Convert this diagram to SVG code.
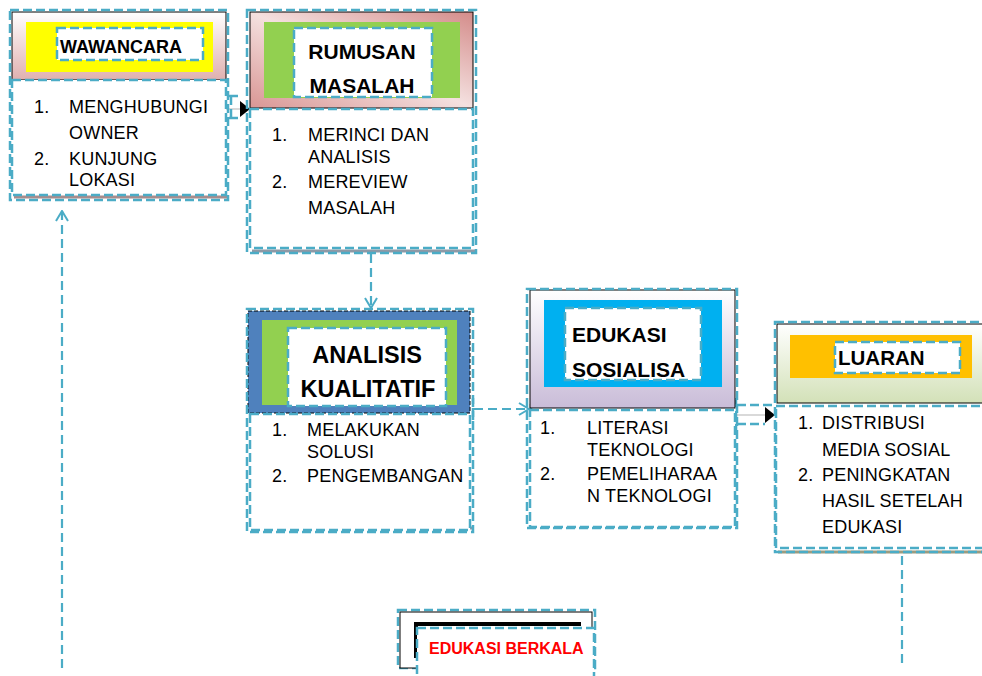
<svg xmlns="http://www.w3.org/2000/svg" width="982" height="676" viewBox="0 0 982 676">
<defs>
  <linearGradient id="gPink" x1="0" y1="0" x2="0" y2="1">
    <stop offset="0" stop-color="#ffffff"/><stop offset="1" stop-color="#e0b0af"/>
  </linearGradient>
  <linearGradient id="gRose" x1="0" y1="1" x2="1" y2="0">
    <stop offset="0" stop-color="#d99694"/><stop offset="0.5" stop-color="#f4e0df"/><stop offset="1" stop-color="#d48c8a"/>
  </linearGradient>
  <linearGradient id="gLav" x1="0" y1="0" x2="0" y2="1">
    <stop offset="0" stop-color="#ffffff"/><stop offset="1" stop-color="#c9bcd8"/>
  </linearGradient>
  <linearGradient id="gGreen" x1="0" y1="0" x2="0" y2="1">
    <stop offset="0" stop-color="#ffffff"/><stop offset="1" stop-color="#d3e1b8"/>
  </linearGradient>
  <marker id="tri" viewBox="0 0 10 16" refX="0" refY="8" markerWidth="10" markerHeight="16" markerUnits="userSpaceOnUse" orient="auto">
    <path d="M0,0 L10,8 L0,16 z" fill="#000"/>
  </marker>
  <marker id="vee" viewBox="0 0 12 14" refX="11" refY="7" markerWidth="12" markerHeight="14" markerUnits="userSpaceOnUse" orient="auto">
    <path d="M1,1 L11,7 L1,13" fill="none" stroke="#4bacc6" stroke-width="2"/>
  </marker>
</defs>
<style>
  .dash{fill:none;stroke:#4bacc6;stroke-width:2.5;stroke-dasharray:9 4}
  .dashw{fill:#fff;stroke:#4bacc6;stroke-width:2.5;stroke-dasharray:9 4}
  .conn{fill:none;stroke:#4bacc6;stroke-width:2.2;stroke-dasharray:9 5}
  .gray{fill:none;stroke:#d9d9d9;stroke-width:2}
  .edge{stroke:#000;stroke-width:1}
  .t{font-family:"Liberation Sans",Arial,sans-serif;font-size:18px;letter-spacing:0.2px;fill:#000}
  .h{font-family:"Liberation Sans",Arial,sans-serif;font-weight:bold;fill:#000}
</style>
<rect width="982" height="676" fill="#fff"/>

<g id="connectors">
  <line class="gray" x1="226" y1="109" x2="240" y2="109" marker-end="url(#tri)"/>
  <path class="dash" d="M229,96 H241 M231,96 V118 M229,118 H242"/>
  <path class="conn" d="M371,254 V308" marker-end="url(#vee)"/>
  <path class="conn" d="M474,409 H529" marker-end="url(#vee)"/>
  <path class="dash" d="M473,398 V422 M531,404 V420"/>
  <line class="gray" x1="737" y1="415" x2="765" y2="415" marker-end="url(#tri)"/>
  <path class="dash" d="M737,405 H776 M737,424 H765 M736,398 V432"/>
  <path class="conn" d="M902,556 V668"/>
  <path class="conn" d="M62,668 V211" marker-end="url(#vee)"/>
</g>

<g id="wawancara">
  <rect class="edge" x="12" y="12" width="214" height="68" fill="url(#gPink)"/>
  <rect x="26" y="22" width="187" height="50" fill="#ffff00"/>
  <rect class="dashw" x="57" y="28" width="146" height="32"/>
  <text class="h" x="60" y="53" font-size="18">WAWANCARA</text>
  <line x1="14" y1="197" x2="228" y2="197" stroke="#a88c8c" stroke-width="3"/>
  <rect class="dashw" x="12" y="80" width="214" height="115"/>
  <rect class="dash" x="10" y="10" width="218" height="190"/>
  <text class="t" x="34" y="113">1.</text><text class="t" x="69" y="113">MENGHUBUNGI</text>
  <text class="t" x="69" y="139">OWNER</text>
  <text class="t" x="34" y="165">2.</text><text class="t" x="69" y="165">KUNJUNG</text>
  <text class="t" x="69" y="186">LOKASI</text>
</g>

<g id="rumusan">
  <rect class="edge" x="250" y="12" width="223" height="96" fill="url(#gRose)"/>
  <rect x="264" y="22" width="196" height="76" fill="#92d050"/>
  <rect class="dashw" x="294" y="28" width="138" height="69"/>
  <text class="h" x="362" y="59" font-size="21" text-anchor="middle">RUMUSAN</text>
  <text class="h" x="362" y="93" font-size="21" text-anchor="middle">MASALAH</text>
  <line x1="252" y1="251" x2="476" y2="251" stroke="#8e99a6" stroke-width="3"/>
  <rect class="dashw" x="250" y="109" width="223" height="139"/>
  <rect class="dash" x="247" y="10" width="229" height="243"/>
  <text class="t" x="272" y="141">1.</text><text class="t" x="308" y="141">MERINCI DAN</text>
  <text class="t" x="308" y="163">ANALISIS</text>
  <text class="t" x="272" y="188">2.</text><text class="t" x="308" y="188">MEREVIEW</text>
  <text class="t" x="308" y="214">MASALAH</text>
</g>

<g id="analisis">
  <rect x="248" y="311" width="222" height="102" fill="#4f81bd" stroke="#000" stroke-width="1" stroke-dasharray="4 2"/>
  <rect x="262" y="320" width="195" height="85" fill="#92d050"/>
  <rect class="dashw" x="288" y="328" width="158" height="78"/>
  <text class="h" x="367" y="363" font-size="23.5" text-anchor="middle">ANALISIS</text>
  <text class="h" x="368" y="397" font-size="23.5" text-anchor="middle">KUALITATIF</text>
  <line x1="252" y1="528" x2="472" y2="528" stroke="#8e99a6" stroke-width="3"/>
  <rect class="dashw" x="250" y="414" width="220" height="116"/>
  <rect class="dash" x="247" y="309" width="226" height="223"/>
  <text class="t" x="272" y="436">1.</text><text class="t" x="307" y="436">MELAKUKAN</text>
  <text class="t" x="307" y="458">SOLUSI</text>
  <text class="t" x="272" y="482">2.</text><text class="t" x="307" y="482">PENGEMBANGAN</text>
</g>

<g id="edukasi">
  <rect class="edge" x="530" y="290" width="205" height="118" fill="url(#gLav)"/>
  <rect x="544" y="300" width="178" height="87" fill="#00b0f0"/>
  <rect class="dashw" x="565" y="308" width="136" height="72"/>
  <text class="h" x="572" y="342" font-size="21">EDUKASI</text>
  <text class="h" x="572" y="377" font-size="21">SOSIALISA</text>
  <rect class="dashw" x="530" y="410" width="205" height="117"/>
  <rect class="dash" x="527" y="289" width="210" height="239"/>
  <text class="t" x="540" y="434">1.</text><text class="t" x="587" y="434">LITERASI</text>
  <text class="t" x="587" y="456">TEKNOLOGI</text>
  <text class="t" x="540" y="480">2.</text><text class="t" x="587" y="480">PEMELIHARAA</text>
  <text class="t" x="587" y="502">N TEKNOLOGI</text>
</g>

<g id="luaran">
  <rect class="edge" x="777" y="324" width="215" height="79" fill="url(#gGreen)"/>
  <rect x="790" y="335" width="182" height="43" fill="#ffc000"/>
  <rect class="dashw" x="835" y="342" width="125" height="31"/>
  <text class="h" x="838" y="365" font-size="20.5">LUARAN</text>
  <line x1="778" y1="552" x2="982" y2="552" stroke="#9c9c80" stroke-width="3"/>
  <rect class="dashw" x="776" y="406" width="215" height="142"/>
  <rect class="dash" x="775" y="322" width="220" height="230"/>
  <text class="t" x="798" y="429">1.</text><text class="t" x="822" y="429">DISTRIBUSI</text>
  <text class="t" x="822" y="456">MEDIA SOSIAL</text>
  <text class="t" x="798" y="481">2.</text><text class="t" x="822" y="481">PENINGKATAN</text>
  <text class="t" x="822" y="507">HASIL SETELAH</text>
  <text class="t" x="822" y="533">EDUKASI</text>
</g>

<g id="edukasi-berkala">
  <rect class="dash" x="398" y="610" width="197" height="58"/>
  <rect x="400" y="612" width="192" height="56" fill="#fff" stroke="#000" stroke-width="1"/>
  <path d="M416,658 V624 H581" fill="none" stroke="#000" stroke-width="4"/>
  <rect class="dashw" x="417" y="628" width="177" height="54"/>
  <text class="h" x="429" y="654" font-size="16" style="fill:#ff0000">EDUKASI BERKALA</text>
</g>
</svg>
